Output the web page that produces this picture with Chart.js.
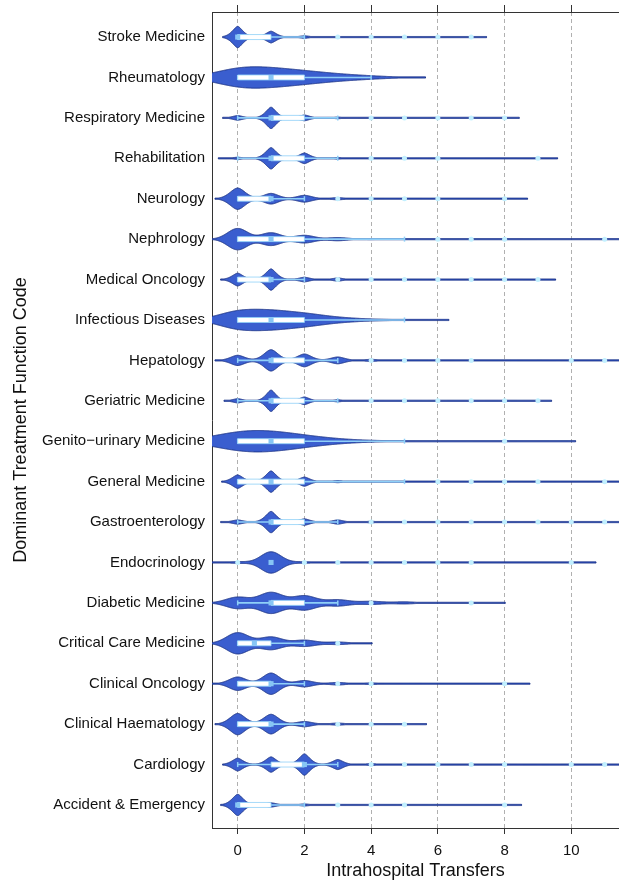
<!DOCTYPE html>
<html>
<head>
<meta charset="utf-8">
<script src="https://cdn.jsdelivr.net/npm/chart.js@4.4.1/dist/chart.umd.min.js"></script>
<style>
  html, body { margin: 0; padding: 0; background: #fff; overflow: hidden; }
  #wrap { width: 619px; height: 882px; }
</style>
</head>
<body>
<div id="wrap"><canvas id="chart" width="619" height="882"></canvas></div>
<script>
'use strict';

// ── Data ──────────────────────────────────────────────────────────
const categories = [
  'Stroke Medicine', 'Rheumatology', 'Respiratory Medicine', 'Rehabilitation',
  'Neurology', 'Nephrology', 'Medical Oncology', 'Infectious Diseases',
  'Hepatology', 'Geriatric Medicine', 'Genito\u2212urinary Medicine', 'General Medicine',
  'Gastroenterology', 'Endocrinology', 'Diabetic Medicine', 'Critical Care Medicine',
  'Clinical Oncology', 'Clinical Haematology', 'Cardiology', 'Accident & Emergency',
];

// relative density at 0, 1, 2, ... transfers
const densities = [
  [1, .55, .12, .04, .03, .02, .02, .02],
  [1.3, 1, .7, .34, .17],
  [.22, 1, .27, .08, .04, .03, .02, .02, .02],
  [.1, 1, .5, .08, .04, .03, .02, 0, 0, .02],
  [1, .5, .32, .1, .04, .03, .02, 0, .02],
  [1, .6, .36, .15, .06, .04, .03, .02, .02, 0, 0, .02, .02],
  [.6, 1, .22, .15, .05, .03, .02, .02, .02, .02],
  [1.1, 1, .7, .25, .08, .04],
  [.48, 1, .6, .32, .1, .05, .03, .02, 0, 0, .02, .02, .02],
  [.2, 1, .36, .1, .04, .03, .02, .02, .02, .02],
  [1.2, 1, .5, .15, .05, .02, .01, .01, .02],
  [.63, 1, .43, .1, .05, .03, .02, .02, .02, .02, 0, .02, .02],
  [.2, 1, .3, .2, .08, .03, .02, .02, .02, .02, .02, .02, .02],
  [.08, 1, .07, .04, .03, .02, .02, .02, 0, 0, .02],
  [.55, 1, .68, .3, .15, .1, .005, .03],
  [1, .6, .3, .12],
  [.63, 1, .3, .12, .08, .01, 0, 0, .02],
  [1, .92, .25, .1, .04, .03],
  [.6, .72, 1, .47, .1, .05, .03, .02, .02, 0, .02, .02, .02],
  [1, .2, .1, .05, .03, .03, 0, 0, .02],
];
const bandwidths = [.19, .75, .19, .2, .25, .3, .2, .6, .24, .18, .9, .2, .2, .3, .35, .33, .27, .25, .2, .2];
const tailLo = [-.45, -1.6, -.45, -.58, -.68, -.8, -.51, -1.3, -.68, -.41, -2, -.48, -.51, -.8, -1, -.9, -.8, -.68, -.45, -.51];
const tailHi = [7.46, 5.63, 8.44, 9.59, 8.69, 12.5, 9.53, 6.33, 12.5, 9.41, 10.13, 12.5, 12.5, 10.74, 8.02, 4.03, 8.76, 5.66, 12.5, 8.51];

const q1s       = [0, 0, 1, 1, 0, 0, 0, 0, 1, 1, 0, 0, 1, 1, 1, 0,  0, 0, 1, 0];
const medians   = [0, 1, 1, 1, 1, 1, 1, 1, 1, 1, 1, 1, 1, 1, 1, .5, 1, 1, 2, 0];
const q3s       = [1, 2, 2, 2, 1, 2, 1, 2, 2, 2, 2, 2, 2, 1, 2, 1,  1, 1, 2, 1];
const whiskerLo = [0, 0, 0, 0, 0, 0, 0, 0, 0, 0, 0, 0, 0, 1, 0, 0,  0, 0, 0, 0];
const whiskerHi = [2, 4, 3, 3, 2, 5, 2, 5, 3, 3, 5, 5, 3, 1, 3, 2,  2, 2, 3, 2];

const outliers = [
  [3, 4, 5, 6, 7],
  [],
  [4, 5, 6, 7, 8],
  [4, 5, 6, 9],
  [3, 4, 5, 6, 8],
  [6, 7, 8, 11],
  [3, 4, 5, 6, 7, 8, 9],
  [],
  [4, 5, 6, 7, 10, 11],
  [4, 5, 6, 7, 8, 9],
  [8],
  [6, 7, 8, 9, 11],
  [4, 5, 6, 7, 8, 9, 10, 11],
  [0, 2, 3, 4, 5, 6, 7, 10],
  [4, 7],
  [3],
  [3, 4, 8],
  [3, 4, 5],
  [4, 5, 6, 7, 8, 10, 11],
  [3, 4, 5, 8],
];

const xTicks = [0, 2, 4, 6, 8, 10];

// ── Styling ───────────────────────────────────────────────────────
const FONT = 'Liberation Sans';
const VIOLIN_FILL = '#3a5ecf';
const VIOLIN_EDGE = '#1d3486';
const WHISKER = '#8fd0f8';
const MEDIAN = '#87c6f5';
const POINT = '#c2f0ff';

// narrow bandwidths give diamond-like bumps, wide ones a smooth gaussian
function kernel(d, bw) {
  const t = Math.min(Math.max((bw - 0.2) / 0.1, 0), 1);
  const p = 1.6 + 0.4 * t;
  const s = bw * (1.2 + (Math.SQRT2 - 1.2) * t);
  return Math.exp(-Math.pow(Math.abs(d) / s, p));
}

function densityAt(row, v) {
  const w = densities[row];
  let sum = 0;
  for (let k = 0; k < w.length; k++) sum += w[k] * kernel(v - k, bandwidths[row]);
  return sum;
}

const violinPlugin = {
  id: 'violins',
  beforeDatasetsDraw(chart) {
    const { ctx, chartArea, scales: { x, y } } = chart;
    const maxHalf = 0.265 * Math.abs(y.getPixelForValue(1) - y.getPixelForValue(0));

    ctx.save();
    ctx.beginPath();
    ctx.rect(chartArea.left, chartArea.top, chartArea.right - chartArea.left, chartArea.bottom - chartArea.top);
    ctx.clip();

    categories.forEach((_, i) => {
      const py = y.getPixelForValue(i);
      const step = 0.01;
      const xs = [];
      const ds = [];
      for (let v = tailLo[i]; v <= tailHi[i] + 1e-9; v += step) {
        xs.push(v);
        ds.push(densityAt(i, v));
      }
      const peak = Math.max(...ds);
      const half = ds.map(d => Math.max(d / peak * maxHalf, 0.6));

      // violin body
      ctx.beginPath();
      xs.forEach((v, k) => {
        const px = x.getPixelForValue(v);
        if (k === 0) ctx.moveTo(px, py - half[k]);
        else ctx.lineTo(px, py - half[k]);
      });
      for (let k = xs.length - 1; k >= 0; k--) {
        ctx.lineTo(x.getPixelForValue(xs[k]), py + half[k]);
      }
      ctx.closePath();
      ctx.fillStyle = VIOLIN_FILL;
      ctx.fill();
      ctx.lineWidth = 1;
      ctx.lineJoin = 'round';
      ctx.strokeStyle = VIOLIN_EDGE;
      ctx.stroke();

      // whisker
      if (whiskerHi[i] > whiskerLo[i]) {
        const wx1 = x.getPixelForValue(whiskerLo[i]);
        const wx2 = x.getPixelForValue(whiskerHi[i]);
        ctx.strokeStyle = WHISKER;
        ctx.lineWidth = 1.6;
        ctx.beginPath();
        ctx.moveTo(wx1, py);
        ctx.lineTo(wx2, py);
        ctx.stroke();
        ctx.lineWidth = 1.5;
        [wx1, wx2].forEach(px => {
          ctx.beginPath();
          ctx.moveTo(px, py - 2.5);
          ctx.lineTo(px, py + 2.5);
          ctx.stroke();
        });
      }

      // box
      if (q3s[i] > q1s[i]) {
        const bx1 = x.getPixelForValue(q1s[i]);
        const bx2 = x.getPixelForValue(q3s[i]);
        ctx.fillStyle = '#ffffff';
        ctx.fillRect(bx1, py - 2.5, bx2 - bx1, 5);
        ctx.strokeStyle = WHISKER;
        ctx.lineWidth = 0.8;
        ctx.strokeRect(bx1, py - 2.5, bx2 - bx1, 5);
      }
    });
    ctx.restore();
  },
};

const outlierPoints = [];
outliers.forEach((vals, i) => vals.forEach(v => outlierPoints.push({ x: v, y: i })));
const medianPoints = medians.map((m, i) => ({ x: m, y: i }));

const axisColor = '#333333';

new Chart(document.getElementById('chart'), {
  type: 'scatter',
  data: {
    datasets: [
      {
        label: 'Outliers',
        data: outlierPoints,
        pointStyle: 'circle',
        pointRadius: 2.5,
        pointBackgroundColor: POINT,
        pointBorderWidth: 0,
        clip: 0,
      },
      {
        label: 'Median',
        data: medianPoints,
        pointStyle: 'rect',
        pointRadius: 3.6,
        pointBackgroundColor: MEDIAN,
        pointBorderWidth: 0,
        clip: 0,
      },
    ],
  },
  options: {
    responsive: false,
    animation: false,
    devicePixelRatio: 1,
    layout: { padding: 0, autoPadding: false },
    plugins: {
      legend: { display: false },
      tooltip: { enabled: false },
    },
    scales: {
      x: {
        type: 'linear',
        position: 'bottom',
        min: -0.77,
        max: 11.43,
        afterBuildTicks: s => { s.ticks = xTicks.map(v => ({ value: v })); },
        afterFit: s => { s.height = 54; },
        grid: { color: '#b0b0b0', lineWidth: 1, drawTicks: true, tickLength: 6, tickColor: axisColor },
        border: { display: true, color: axisColor, width: 1, dash: [4, 3] },
        ticks: { font: { family: FONT, size: 15 }, color: '#111', padding: 8, maxRotation: 0 },
        title: {
          display: true,
          text: 'Intrahospital Transfers',
          font: { family: FONT, size: 18 },
          color: '#111',
          padding: { top: 0, bottom: 0 },
        },
      },
      xTop: {
        type: 'linear',
        position: 'top',
        min: -0.77,
        max: 11.43,
        afterBuildTicks: s => { s.ticks = xTicks.map(v => ({ value: v })); },
        afterFit: s => { s.height = 12; },
        grid: { drawOnChartArea: false, drawTicks: true, tickLength: 7, tickColor: axisColor },
        border: { display: true, color: axisColor, width: 1 },
        ticks: { display: false },
      },
      y: {
        type: 'linear',
        reverse: true,
        min: -0.62,
        max: 19.57,
        afterBuildTicks: s => { s.ticks = categories.map((_, i) => ({ value: i })); },
        afterFit: s => {
          s.width = 212;
          s.paddingTop = 0;
          s.paddingBottom = 0;
        },
        grid: { display: false, drawTicks: false },
        border: { display: true, color: axisColor, width: 1 },
        ticks: {
          autoSkip: false,
          padding: 7,
          font: { family: FONT, size: 15 },
          color: '#111',
          callback: v => categories[v],
        },
        title: {
          display: true,
          text: 'Dominant Treatment Function Code',
          font: { family: FONT, size: 18 },
          color: '#111',
          padding: { top: 10, bottom: 0 },
        },
      },
    },
  },
  plugins: [violinPlugin],
});
</script>
</body>
</html>
